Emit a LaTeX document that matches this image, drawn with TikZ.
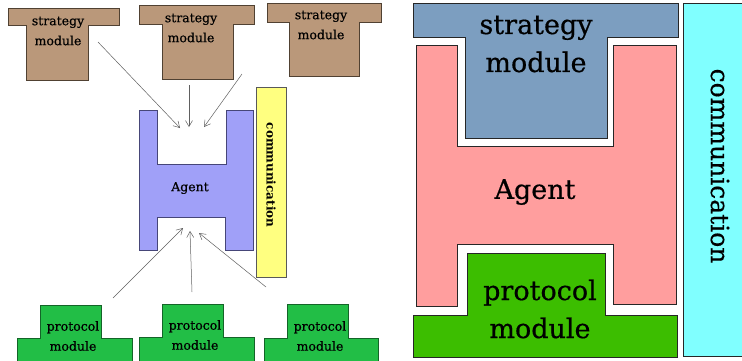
\documentclass[tikz,border=0pt]{standalone}
\usepackage{fontspec}
\setmainfont{DejaVu Serif}
\newfontfamily\medserif{DejaVu Serif}[FakeBold=0.5]
\usetikzlibrary{arrows.meta}
\definecolor{brownT}{RGB}{186,152,122}
\definecolor{brownE}{RGB}{80,65,50}
\definecolor{blueH}{RGB}{160,160,248}
\definecolor{blueE}{RGB}{70,70,120}
\definecolor{yellowC}{RGB}{255,255,128}
\definecolor{greenL}{RGB}{34,190,70}
\definecolor{greenLE}{RGB}{20,100,40}
\definecolor{steelS}{RGB}{124,158,192}
\definecolor{pinkA}{RGB}{255,158,158}
\definecolor{greenR}{RGB}{60,190,0}
\definecolor{cyanC}{RGB}{128,255,255}
\tikzset{
  brownshape/.style={fill=brownT,draw=brownE,line width=0.7pt},
  blueshape/.style={fill=blueH,draw=blueE,line width=0.5pt},
  yellowshape/.style={fill=yellowC,draw=gray!70!black,line width=0.6pt},
  greenshapeL/.style={fill=greenL,draw=greenLE,line width=0.6pt},
  rshape/.style={draw=black!85,line width=0.9pt},
  flow/.style={draw=gray!75!black,line width=0.5pt,-{Straight Barb[length=6pt,width=7pt]}},
  smalltext/.style={font=\medserif\fontsize{12.5}{20}\selectfont,align=center,text=black,inner sep=0pt},
  bigtext/.style={font=\medserif\fontsize{27}{38}\selectfont,align=center,text=black,inner sep=0pt},
}
\begin{document}
\begin{tikzpicture}[x=1pt,y=-1pt]
\useasboundingbox (0,0) rectangle (742,360);
\fill[white] (0,0) rectangle (742,360);
% ---------- left panel ----------
\draw[brownshape] (8,8) -- (119,8) -- (119,25) -- (88,25) -- (88,80) -- (26,80) -- (26,25) -- (8,25) -- cycle;
\draw[brownshape] (139,5) -- (254,5) -- (254,24) -- (233,24) -- (233,79) -- (162,79) -- (162,24) -- (139,24) -- cycle;
\draw[brownshape] (267,3) -- (381,3) -- (381,22) -- (359,22) -- (359,76) -- (289,76) -- (289,22) -- (267,22) -- cycle;
\node[smalltext] (s1) at (58,31) {strategy\\module};
\node[smalltext] (s2) at (191,28) {strategy\\module};
\node[smalltext] (s3) at (321,25) {strategy\\module};

\draw[blueshape] (139,110) -- (157,110) -- (157,164) -- (226,164) -- (226,110) -- (253,110) -- (253,250) -- (225,250) -- (225,217) -- (157,217) -- (157,250) -- (139,250) -- cycle;
\node[smalltext] (agL) at (190,188) {Agent};

\draw[yellowshape] (256,87) rectangle (286,277);
\node[font=\fontsize{12}{14}\selectfont\bfseries,rotate=-90,inner sep=0pt] (comL) at (271,175) {communication};

\draw[greenshapeL] (40,305) -- (101,305) -- (101,338) -- (132,338) -- (132,362) -- (17,362) -- (17,338) -- (40,338) -- cycle;
\draw[greenshapeL] (162,304) -- (223,304) -- (223,337) -- (254,337) -- (254,362) -- (139,362) -- (139,337) -- (162,337) -- cycle;
\draw[greenshapeL] (287,304) -- (348,304) -- (348,338) -- (378,338) -- (378,362) -- (264,362) -- (264,338) -- (287,338) -- cycle;
\node[smalltext] (p1) at (73,336) {protocol\\module};
\node[smalltext] (p2) at (195,335) {protocol\\module};
\node[smalltext] (p3) at (320,336) {protocol\\module};

\coordinate (a1s) at (98,42);  \coordinate (a1e) at (180,128);
\coordinate (a2s) at (189,85); \coordinate (a2e) at (189,127);
\coordinate (a3s) at (242,74); \coordinate (a3e) at (204,127);
\coordinate (b1s) at (113,298); \coordinate (b1e) at (183,228);
\coordinate (b2s) at (192,292); \coordinate (b2e) at (190,231);
\coordinate (b3s) at (266,287); \coordinate (b3e) at (199,233);
\draw[flow] (a1s) -- (a1e);
\draw[flow] (a2s) -- (a2e);
\draw[flow] (a3s) -- (a3e);
\draw[flow] (b1s) -- (b1e);
\draw[flow] (b2s) -- (b2e);
\draw[flow] (b3s) -- (b3e);

% ---------- right panel ----------
\draw[rshape,fill=steelS] (413,3) -- (678,3) -- (678,37) -- (607,37) -- (607,138) -- (465,138) -- (465,37) -- (413,37) -- cycle;
\node[bigtext] (sR) at (536,44) {strategy\\module};

\draw[rshape,fill=pinkA] (416,45) -- (457,45) -- (457,146) -- (613,146) -- (613,45) -- (676,45) -- (676,304) -- (613,304) -- (613,244) -- (457,244) -- (457,306) -- (416,306) -- cycle;
\node[bigtext] (agR) at (535,192) {Agent};

\draw[rshape,fill=greenR] (467,253) -- (605,253) -- (605,315) -- (677,315) -- (677,357) -- (413,357) -- (413,315) -- (467,315) -- cycle;
\node[bigtext] (pR) at (540,309) {protocol\\module};

\fill[cyanC] (683,3) rectangle (742,356);
\draw[rshape] (745,3) -- (683,3) -- (683,356) -- (745,356);
\node[font=\medserif\fontsize{25}{28}\selectfont,rotate=-90,inner sep=0pt] (comR) at (720,166) {communication};
\end{tikzpicture}
\end{document}
